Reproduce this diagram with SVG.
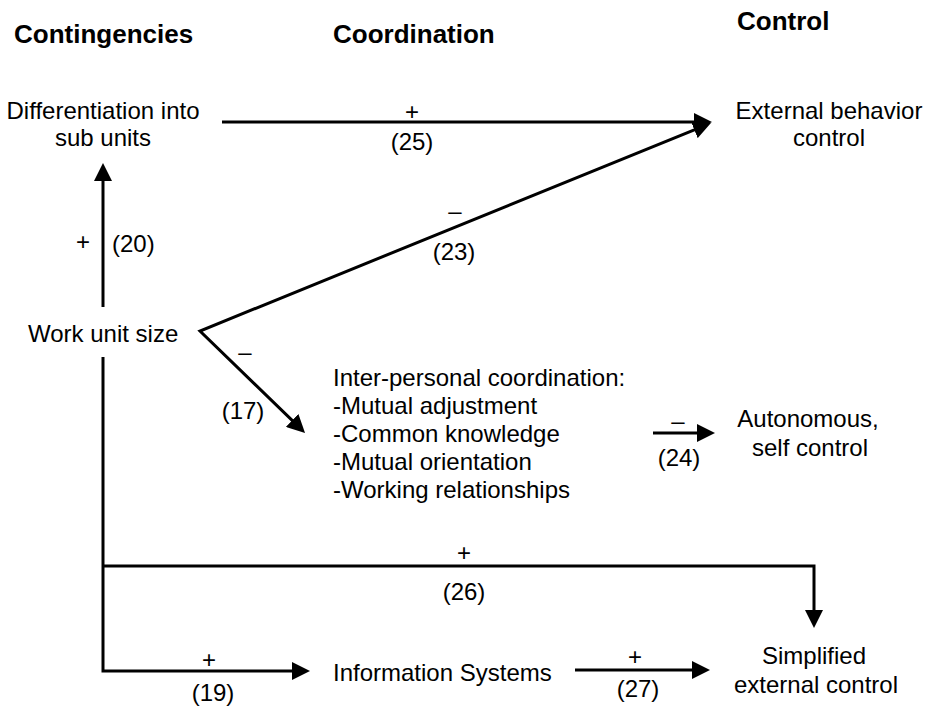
<svg xmlns="http://www.w3.org/2000/svg" width="927" height="707" viewBox="0 0 927 707">
  <style>
    text { font-family: "Liberation Sans", Arial, sans-serif; font-size: 24px; fill: #000; }
    .head { font-weight: bold; font-size: 26px; }
    .mid { text-anchor: middle; }
    .conn { fill: none; stroke: #000; stroke-width: 3; stroke-linejoin: miter; stroke-miterlimit: 10; }
  </style>
  <defs>
    <marker id="arrow" markerUnits="userSpaceOnUse" markerWidth="18" markerHeight="18" viewBox="0 0 18 18" refX="4" refY="9" orient="auto-start-reverse">
      <path d="M0,0 L18,9 L0,18 Z" fill="#000"/>
    </marker>
  </defs>

  <rect width="927" height="707" fill="#fff"/>

  <!-- column headings -->
  <g id="headings">
    <text class="head" x="14" y="43">Contingencies</text>
    <text class="head" x="333" y="43">Coordination</text>
    <text class="head" x="737" y="30">Control</text>
  </g>

  <!-- nodes -->
  <g id="differentiation">
    <text class="mid" x="103" y="119">Differentiation into</text>
    <text class="mid" x="103" y="146">sub units</text>
  </g>
  <g id="external-behavior-control">
    <text class="mid" x="829" y="119">External behavior</text>
    <text class="mid" x="829" y="146">control</text>
  </g>
  <g id="work-unit-size">
    <text x="28" y="342">Work unit size</text>
  </g>
  <g id="interpersonal-coordination">
    <text x="333" y="386">Inter-personal coordination:</text>
    <text x="333" y="414">-Mutual adjustment</text>
    <text x="333" y="442">-Common knowledge</text>
    <text x="333" y="470">-Mutual orientation</text>
    <text x="333" y="498">-Working relationships</text>
  </g>
  <g id="autonomous-self-control">
    <text class="mid" x="808" y="427">Autonomous,</text>
    <text class="mid" x="810" y="456">self control</text>
  </g>
  <g id="information-systems">
    <text x="333" y="681">Information Systems</text>
  </g>
  <g id="simplified-external-control">
    <text class="mid" x="814" y="664">Simplified</text>
    <text class="mid" x="816" y="693">external control</text>
  </g>

  <!-- connectors -->
  <g id="connectors">
    <!-- (20) work unit size -> differentiation -->
    <path class="conn" d="M103,307 V177" marker-end="url(#arrow)"/>
    <!-- (25) differentiation -> external behavior control -->
    <path class="conn" d="M222,122 H698" marker-end="url(#arrow)"/>
    <!-- (23) and (17) leaving work unit size -->
    <path class="conn" d="M698,128.3 L200,331 L295,423.2" marker-start="url(#arrow)" marker-end="url(#arrow)"/>
    <!-- (24) coordination -> autonomous control -->
    <path class="conn" d="M653,433 H701" marker-end="url(#arrow)"/>
    <!-- (19) work unit size -> information systems -->
    <path class="conn" d="M103,357 V671 H296" marker-end="url(#arrow)"/>
    <!-- (26) work unit size -> simplified external control -->
    <path class="conn" d="M103,566 H814 V614" marker-end="url(#arrow)"/>
    <!-- (27) information systems -> simplified external control -->
    <path class="conn" d="M575,670 H696" marker-end="url(#arrow)"/>
  </g>

  <!-- connector labels -->
  <g id="labels">
    <text x="83" y="250" class="mid">+</text>
    <text x="112" y="252">(20)</text>
    <text x="412" y="120" class="mid">+</text>
    <text x="412" y="150" class="mid">(25)</text>
    <text x="455" y="219" class="mid">–</text>
    <text x="454" y="260" class="mid">(23)</text>
    <text x="245" y="360" class="mid">–</text>
    <text x="243" y="419" class="mid">(17)</text>
    <text x="678" y="429" class="mid">–</text>
    <text x="679" y="466" class="mid">(24)</text>
    <text x="464" y="561" class="mid">+</text>
    <text x="464" y="600" class="mid">(26)</text>
    <text x="209" y="668" class="mid">+</text>
    <text x="213" y="701" class="mid">(19)</text>
    <text x="635" y="665" class="mid">+</text>
    <text x="638" y="697" class="mid">(27)</text>
  </g>
</svg>
